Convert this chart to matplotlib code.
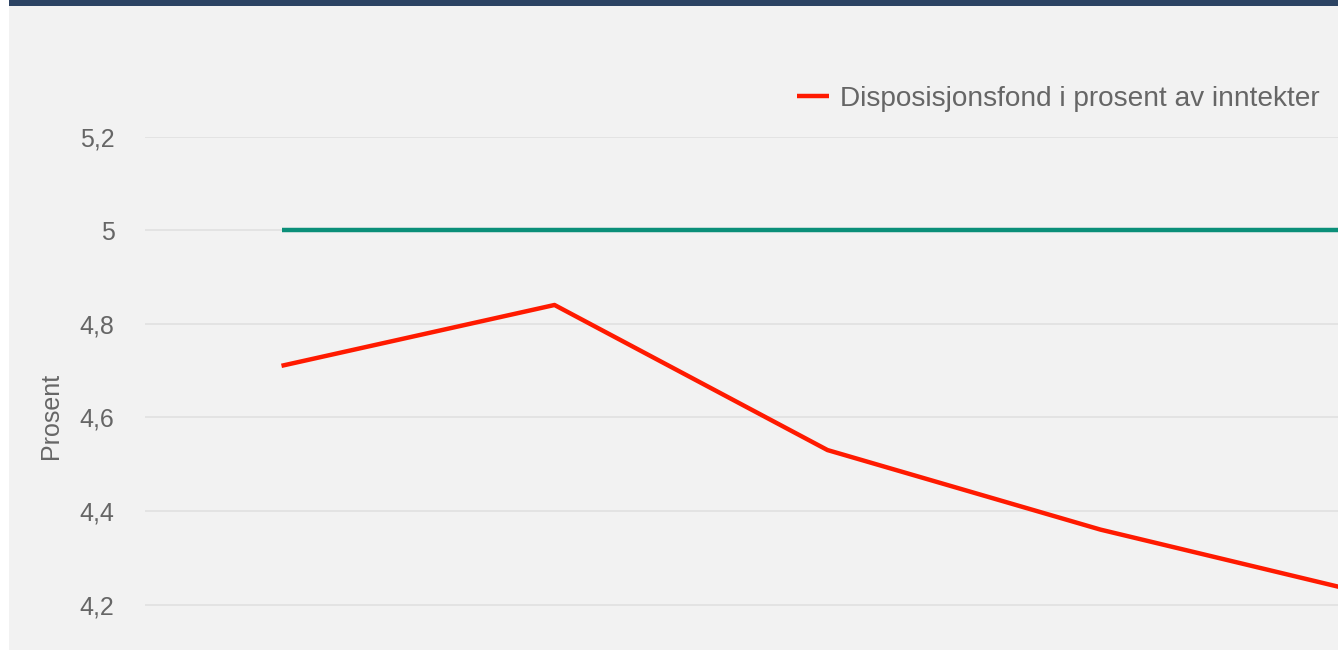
import matplotlib.pyplot as plt
from matplotlib.patches import Rectangle
from matplotlib.ticker import FuncFormatter

plt.rcParams['font.family'] = ['Liberation Sans', 'DejaVu Sans']

# data
years = [0, 1, 2, 3, 4]
fond_prosent = [4.71, 4.84, 4.53, 4.36, 4.22]
maal = [5.0, 5.0, 5.0, 5.0, 5.0]
yticks = [4.2, 4.4, 4.6, 4.8, 5.0, 5.2]

W, H = 1338, 650
fig = plt.figure(figsize=(W / 100, H / 100), dpi=100, facecolor='white')

# background panel + top bar
fig.patches.append(Rectangle((9 / W, 0), 1, 1, transform=fig.transFigure,
                             facecolor='#f2f2f2', edgecolor='none', zorder=0))
fig.patches.append(Rectangle((9 / W, 1 - 6 / H), 1, 6 / H, transform=fig.transFigure,
                             facecolor='#2c4363', edgecolor='none', zorder=1))

# axes runs past the right and bottom edge (cropped chart)
left_px, top_px = 145, 136.5
step_px = 273
px_per_unit = 93.6 / 0.2
ymin, ymax = 4.0, 5.2
bottom_px = top_px + (ymax - ymin) * px_per_unit
ax = fig.add_axes([left_px / W, 1 - bottom_px / H,
                   step_px * len(years) / W, (bottom_px - top_px) / H])
ax.set_facecolor('none')
ax.set_zorder(5)

ax.plot(years, maal, color='#0b8f79', lw=3.2, solid_capstyle='butt', zorder=3)
ax.plot(years, fond_prosent, color='#ff1a00', lw=3.2, solid_capstyle='butt',
        label='Disposisjonsfond i prosent av inntekter', zorder=4)

ax.set_xlim(-0.5, len(years) - 0.5)
ax.set_ylim(ymin, ymax)
ax.set_yticks(yticks)
ax.yaxis.set_major_formatter(FuncFormatter(lambda v, p: f'{v:g}'.replace('.', ',')))
ax.set_xticks([])
ax.grid(axis='y', color='#e2e2e2', lw=1.3)
ax.set_axisbelow(True)
for s in ax.spines.values():
    s.set_visible(False)
ax.tick_params(axis='y', length=0, pad=22, labelsize=18, labelcolor='#666666')
ax.set_ylabel('Prosent', fontsize=18, color='#666666', va='center')
ax.yaxis.set_label_coords((51 - left_px) / (step_px * len(years)), (bottom_px - 416) / (bottom_px - top_px))

leg = fig.legend(loc='center left', bbox_to_anchor=(797 / W, 1 - 98.5 / H), frameon=False,
                 fontsize=20.15, labelcolor='#666666', borderpad=0, borderaxespad=0,
                 handlelength=1.15, handletextpad=0.4)
leg.set_zorder(6)

fig.savefig('out.png', dpi=100, facecolor=fig.get_facecolor())
